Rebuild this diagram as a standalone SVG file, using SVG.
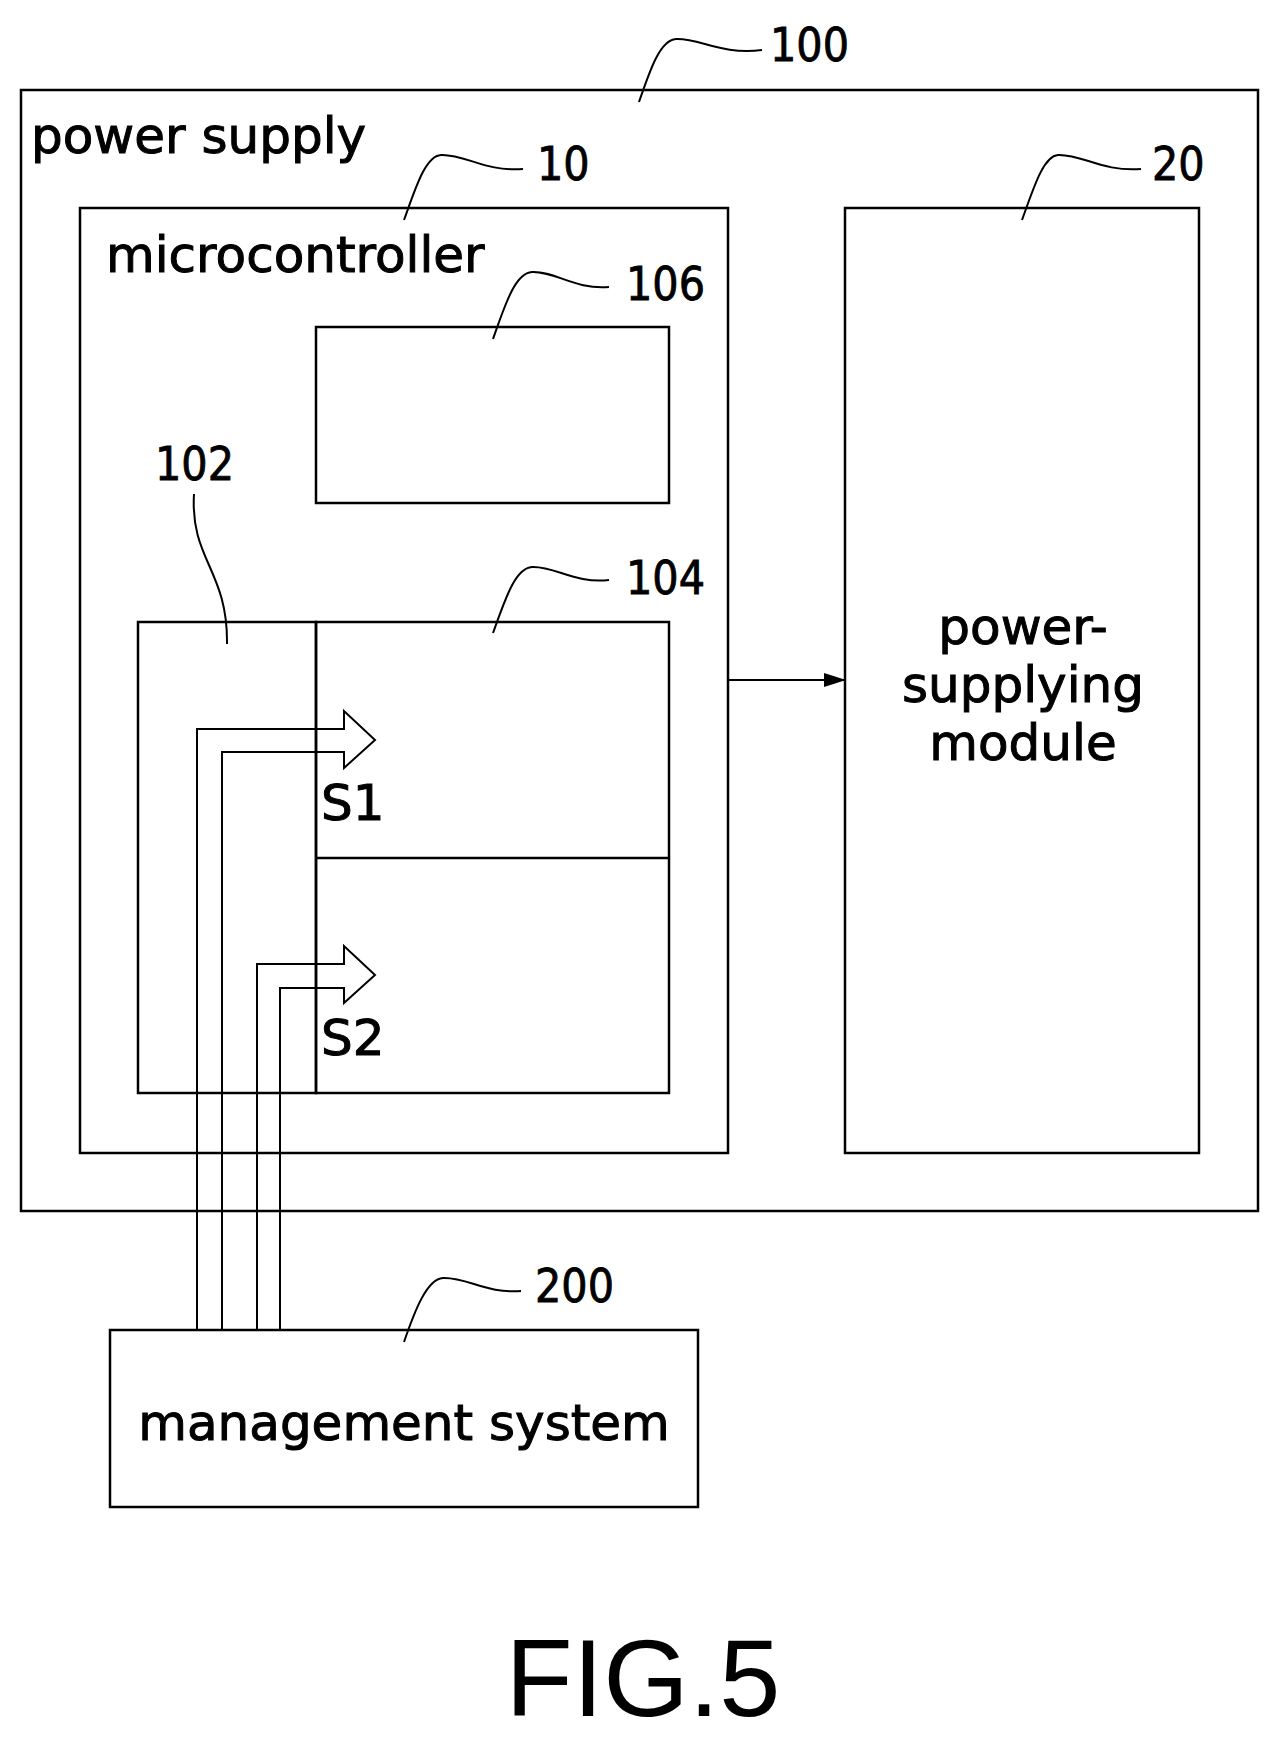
<svg xmlns="http://www.w3.org/2000/svg" width="1283" height="1742" viewBox="0 0 1283 1742">
<style>
.b{fill:none;stroke:#000;stroke-width:2.5}
.l{fill:none;stroke:#000;stroke-width:2}
.t{font-family:"DejaVu Sans",sans-serif;font-size:50px;fill:#000;stroke:#000;stroke-width:1}
.n{font-family:"DejaVu Sans Condensed","DejaVu Sans",sans-serif;font-size:46px;fill:#000;stroke:#000;stroke-width:0.8}
</style>
<rect width="1283" height="1742" fill="#fff"/>
<g id="n100"><rect class="b" x="21" y="90" width="1237" height="1121"/><text class="t" x="31" y="153">power supply</text>
<path class="l" d="M639,102 C650,70 660,40 676,39 C700,38 720,55 762,50"/><text class="n" x="770" y="61">100</text></g>
<g id="n10"><rect class="b" x="80" y="208" width="648" height="945"/><text class="t" x="106" y="272">microcontroller</text>
<path class="l" d="M404,220 C415,190 425,156 441,155 C465,154 485,172 523,169"/><text class="n" x="537" y="180">10</text></g>
<g id="n106"><rect class="b" x="316" y="327" width="353" height="176"/>
<path class="l" d="M493,339 C505,305 515,273 532,272 C555,271 575,290 609,287"/><text class="n" x="626" y="300">106</text></g>
<g id="n102"><rect class="b" x="138" y="622" width="178" height="471"/><text class="n" x="155" y="480">102</text>
<path class="l" d="M194,494 C190,560 228,570 227,644"/></g>
<g id="n104"><rect class="b" x="316" y="622" width="353" height="471"/><line class="b" x1="316" y1="858" x2="669" y2="858"/>
<path class="l" d="M493,633 C505,600 515,568 532,567 C555,566 575,584 609,580"/><text class="n" x="626" y="594">104</text>
<text class="t" x="321" y="820">S1</text><text class="t" x="321" y="1055">S2</text></g>
<g id="n20"><rect class="b" x="845" y="208" width="354" height="945"/>
<path class="l" d="M1022,220 C1033,190 1043,156 1058,155 C1082,154 1102,172 1141,169"/><text class="n" x="1152" y="180">20</text>
<text class="t" text-anchor="middle" x="1023" y="644">power-</text><text class="t" text-anchor="middle" x="1023" y="702">supplying</text><text class="t" text-anchor="middle" x="1023" y="760">module</text></g>
<g id="n200"><rect class="b" x="110" y="1330" width="588" height="177"/><text class="t" text-anchor="middle" x="404" y="1440">management system</text>
<path class="l" d="M404,1342 C415,1310 427,1279 443,1278 C467,1277 487,1294 521,1291"/><text class="n" x="535" y="1302">200</text></g>
<g id="connectors">
<defs><marker id="a" markerWidth="22" markerHeight="14" refX="21" refY="7" orient="auto" markerUnits="userSpaceOnUse"><path d="M0,0 L22,7 L0,14 z" fill="#000"/></marker></defs>
<line class="l" x1="728" y1="680" x2="845" y2="680" marker-end="url(#a)"/>
<path class="l" d="M197,1330 V729 H344 V711 L375,740 L344,768 V752 H222 V1330"/>
<path class="l" d="M257,1330 V964 H344 V946 L375,975 L344,1003 V988 H280 V1330"/>
</g>
<text x="643" y="1716" text-anchor="middle" font-family="Liberation Sans,sans-serif" font-size="110">FIG.5</text>
</svg>
